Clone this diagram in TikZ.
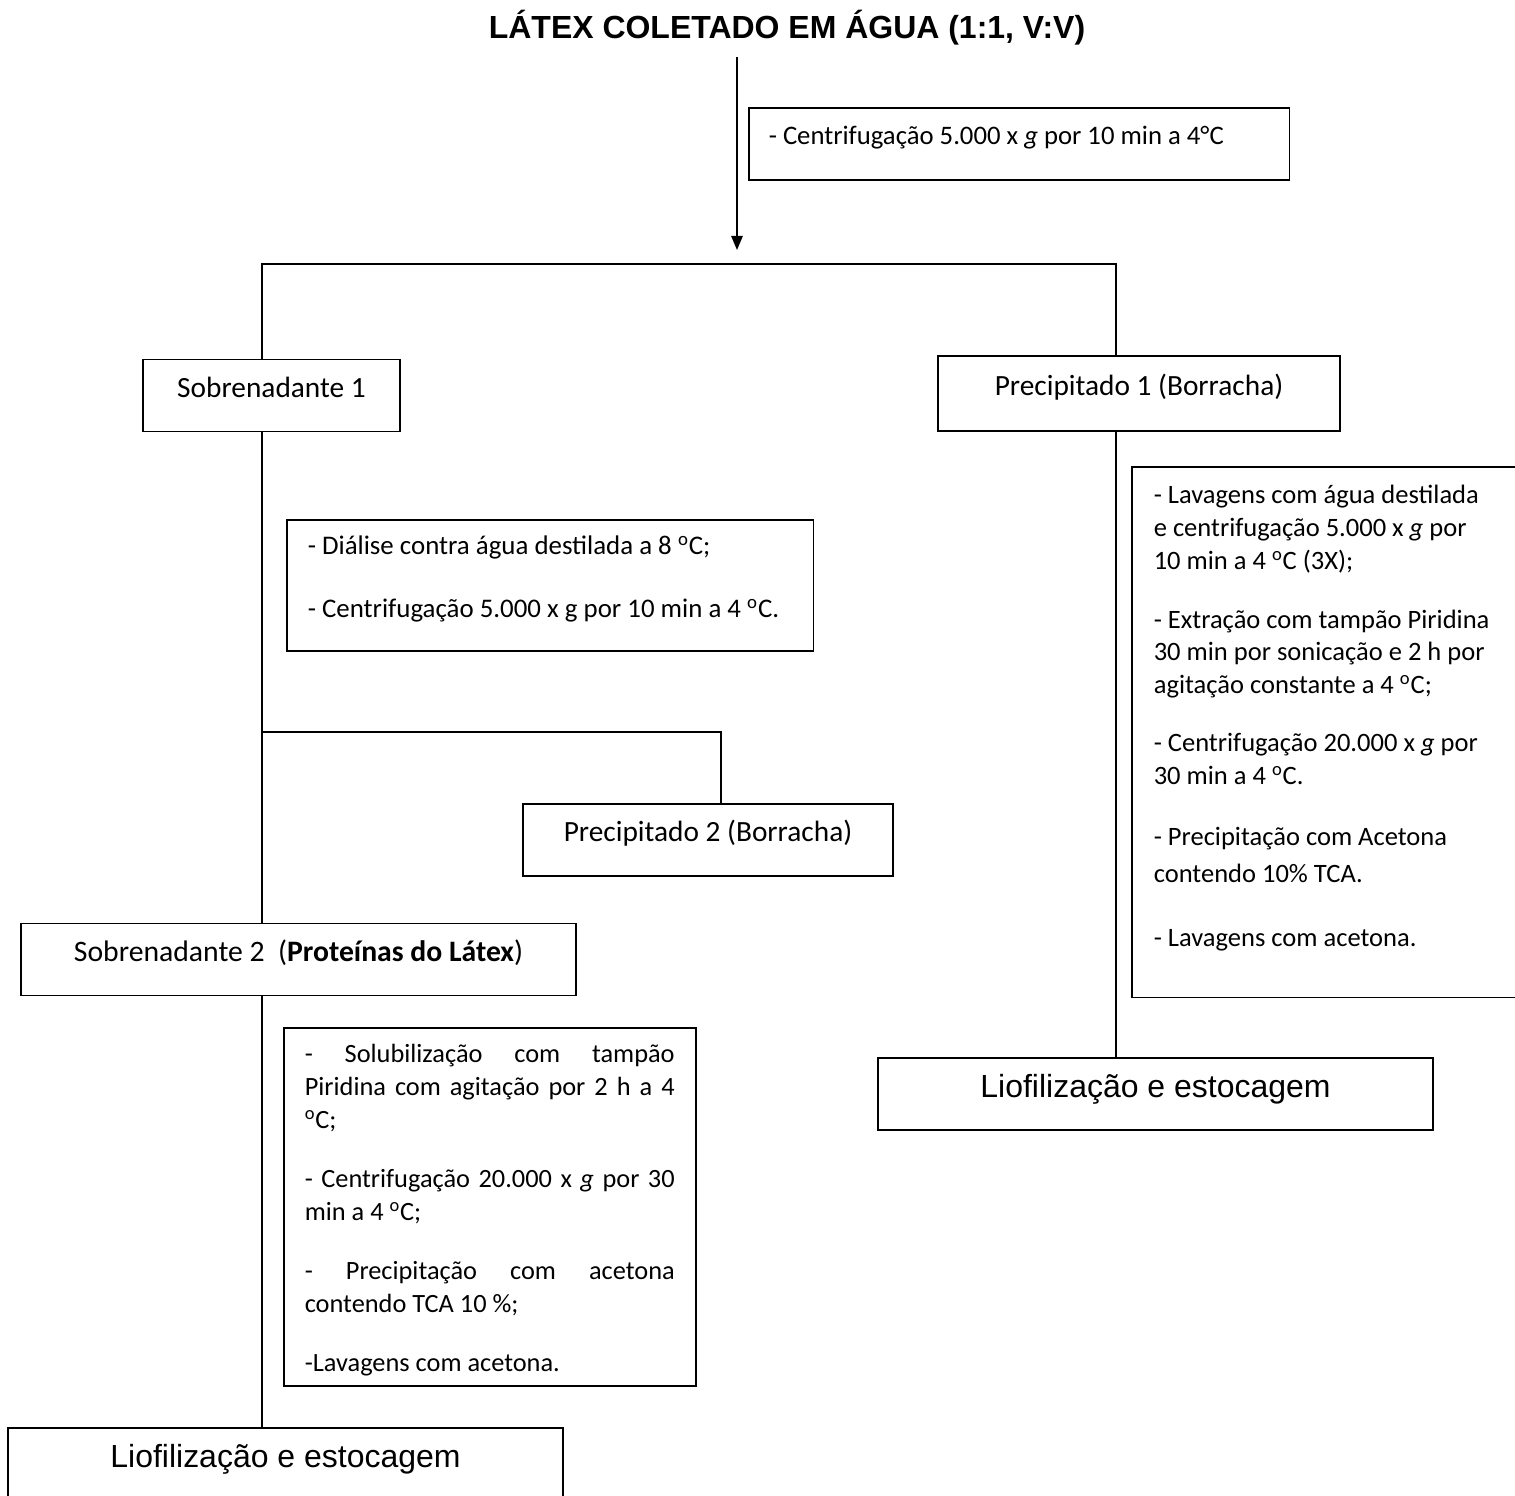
\documentclass[tikz,border=0pt]{standalone}
\usepackage{fontspec}
\setmainfont{Carlito}
\newfontfamily\arialfont{Liberation Sans}
\usetikzlibrary{arrows.meta}

\begin{document}
\begin{tikzpicture}[x=0.02cm, y=-0.02cm, line width=0.9pt]

\tikzset{stage/.style = {shape=rectangle, draw, minimum height=1.44cm, inner sep=0pt, font=\fontsize{16.7}{20}\selectfont, text height=12pt, text depth=10pt}}
\tikzset{final/.style = {stage, font=\arialfont\fontsize{18.2}{22}\selectfont, text height=13pt, text depth=9pt}}
\tikzset{stepbox/.style = {shape=rectangle, draw, anchor=north west, align=flush left, inner xsep=0.42cm, inner ysep=0pt}}
\tikzset{edge/.style = {->, >={Triangle[width=6.5pt,length=8pt]}}}

\clip (0,0) rectangle (1515,1495);

%title
\node[font=\arialfont\bfseries\fontsize{18.2}{22}\selectfont, inner sep=6pt] (title) at (787,28) {LÁTEX COLETADO EM ÁGUA (1:1, V:V)};

%stages
\node[stage, minimum width=5.14cm] (sob1) at (271.5,395.5) {Sobrenadante 1};
\node[stage, minimum width=8.04cm, minimum height=1.5cm] (prec1) at (1139,393.5) {Precipitado 1 (Borracha)};
\node[stage, minimum width=7.4cm] (prec2) at (708,840) {Precipitado 2 (Borracha)};
\node[stage, minimum width=11.1cm, font=\fontsize{16.9}{20}\selectfont] (sob2) at (298.5,959.5) {Sobrenadante 2\ \ (\textbf{Proteínas do Látex})};
\node[final, minimum width=11.1cm] (liof1) at (1155.5,1094) {Liofilização e estocagem};
\node[final, minimum width=11.1cm] (liof2) at (285.5,1464) {Liofilização e estocagem};

%steps
\node[stepbox, text width=10.02cm, inner xsep=0.4cm, minimum height=1.44cm, font=\fontsize{15.2}{18.7}\selectfont, text height=11pt, text depth=10pt] (cent) at (748,107)
  {- Centrifugação 5.000 x \textit{g} por 10 min a 4°C};
\node[stepbox, text width=9.7cm, minimum height=2.62cm, font=\fontsize{15.3}{18.7}\selectfont, text depth=1.6cm] (dial) at (286,519)
  {- Diálise contra água destilada a 8 \textsuperscript{o}C;\\[0.6cm]
   - Centrifugação 5.000 x g por 10 min a 4 \textsuperscript{o}C.};
\node[stepbox, text width=7.4cm, minimum height=7.16cm, align=justify, font=\fontsize{15}{18.7}\selectfont, text depth=6.12cm] (solub) at (283,1027)
  {- Solubilização com tampão\linebreak Piridina com agitação por 2 h a 4\linebreak \textsuperscript{o}C;\par\vspace{0.52cm}
   - Centrifugação 20.000 x \textit{g} por 30\linebreak min a 4 \textsuperscript{o}C;\par\vspace{0.52cm}
   - Precipitação com acetona\linebreak contendo TCA 10 \%;\par\vspace{0.54cm}
   -Lavagens com acetona.};
\node[stepbox, text width=7.6cm, inner xsep=0.44cm, minimum height=10.62cm, font=\fontsize{15.1}{18.7}\selectfont, text depth=9.52cm] (wash) at (1131,466)
  {- Lavagens com água destilada\\ e centrifugação 5.000 x \textit{g} por\\ 10 min a 4 \textsuperscript{o}C (3X);\\[0.52cm]
   - Extração com tampão Piridina\\ 30 min por sonicação e 2 h por\\ agitação constante a 4 \textsuperscript{o}C;\\[0.5cm]
   - Centrifugação 20.000 x \textit{g} por\\ 30 min a 4 \textsuperscript{o}C.\\[0.56cm]
   - Precipitação com Acetona\\[0.08cm] contendo 10\% TCA.\\[0.62cm]
   - Lavagens com acetona.};

%connectors
\coordinate (fork) at (737,250);
\coordinate (barL) at (262,264);
\coordinate (barR) at (1116,264);
\coordinate (split2) at (721,732);
\draw[edge] (title.south -| fork) -- (fork);
\draw (sob1.north -| barL) -- (barL) -- (barR) -- (prec1.north -| barR);
\draw (sob1.south -| barL) -- (sob2.north -| barL);
\draw (barL |- split2) -- (split2) -- (prec2.north -| split2);
\draw (sob2.south -| barL) -- (liof2.north -| barL);
\draw (prec1.south -| barR) -- (liof1.north -| barR);

\end{tikzpicture}
\end{document}
